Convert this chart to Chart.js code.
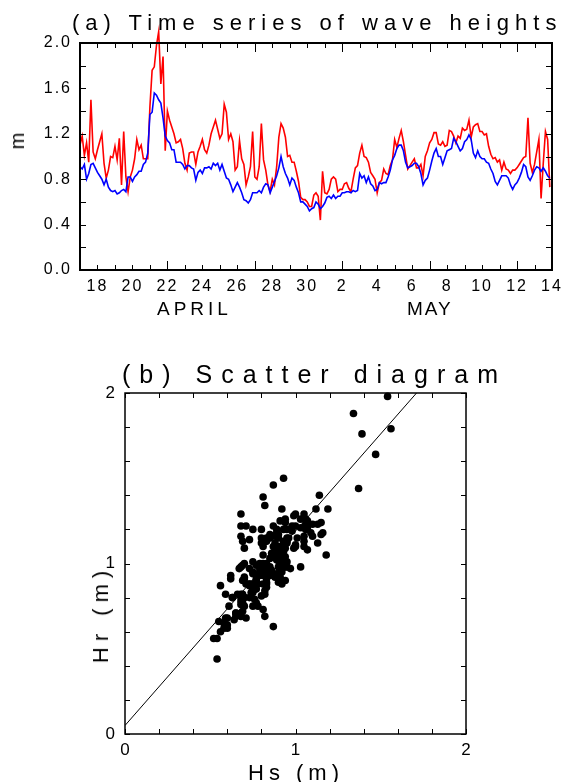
<!DOCTYPE html>
<html lang="en">
<head>
<meta charset="utf-8">
<title>Wave heights</title>
<script src="https://cdn.jsdelivr.net/npm/chart.js@4.4.1/dist/chart.umd.min.js"></script>
<style>
  html, body { margin: 0; padding: 0; background: #fff; }
  body { position: relative; width: 561px; height: 782px; overflow: hidden;
         font-family: "Liberation Sans", Arial, sans-serif; color: #000; }
  .panel { position: absolute; left: 0; width: 561px; }
  .txt { position: absolute; white-space: nowrap; line-height: 1; }
  .vert { transform: translate(-50%, -50%) rotate(-90deg); }
</style>
</head>
<body>
<div class="panel" style="top:0;height:330px"><canvas id="seriesChart"></canvas></div>
<div class="panel" style="top:335px;height:447px"><canvas id="scatterChart"></canvas></div>

<div class="txt" style="left:72px;top:12px;font-size:22px;letter-spacing:6px">(a) Time series of wave heights</div>
<div class="txt vert" style="left:17px;top:141px;font-size:20px">m</div>
<div class="txt" style="left:157px;top:299px;font-size:19px;letter-spacing:4px">APRIL</div>
<div class="txt" style="left:407px;top:299px;font-size:19px;letter-spacing:2px">MAY</div>
<div class="txt" style="left:122px;top:362px;font-size:25px;letter-spacing:9px">(b) Scatter diagram</div>
<div class="txt" style="left:248px;top:762px;font-size:22px;letter-spacing:5px">Hs (m)</div>
<div class="txt vert" style="left:101px;top:614px;font-size:22px;letter-spacing:6px">Hr (m)</div>

<script>
// 3-hourly samples starting 17 April 00:00, one row per day
const stepHours = 3;
const hsBlue = [
  0.91,0.89,0.93,0.80,0.85,0.93,0.94,0.90,
  0.86,0.83,0.80,0.75,0.80,0.73,0.70,0.69,
  0.70,0.67,0.68,0.70,0.71,0.69,0.82,0.82,
  0.78,0.82,0.84,0.87,0.87,0.93,0.95,1.03,
  1.37,1.39,1.56,1.54,1.50,1.47,1.34,1.18,
  1.14,1.12,1.06,1.06,0.95,0.95,0.95,0.93,
  0.89,0.92,0.92,0.90,0.89,0.79,0.86,0.88,
  0.85,0.90,0.90,0.91,0.89,0.94,0.92,0.94,
  0.88,0.93,0.87,0.81,0.80,0.75,0.69,0.73,
  0.77,0.73,0.68,0.62,0.61,0.59,0.62,0.68,
  0.68,0.68,0.70,0.68,0.73,0.76,0.75,0.68,
  0.73,0.78,0.83,0.90,1.00,0.91,0.85,0.81,
  0.75,0.81,0.79,0.73,0.68,0.60,0.60,0.58,
  0.56,0.52,0.54,0.55,0.60,0.58,0.54,0.56,
  0.59,0.64,0.65,0.63,0.66,0.63,0.65,0.65,
  0.68,0.68,0.69,0.69,0.68,0.70,0.69,0.70,
  0.85,0.81,0.83,0.77,0.82,0.76,0.74,0.70,
  0.71,0.77,0.76,0.77,0.77,0.82,0.88,0.97,
  1.01,1.07,1.10,1.10,1.05,0.95,0.90,0.91,
  0.92,0.94,0.94,0.91,0.85,0.75,0.79,0.81,
  0.88,0.96,1.03,1.07,1.00,1.00,0.93,0.99,
  1.05,1.06,1.07,1.16,1.13,1.09,1.05,1.07,
  1.13,1.15,1.19,1.15,1.03,0.99,1.05,1.00,
  0.98,0.98,0.95,0.94,0.89,0.85,0.78,0.75,
  0.79,0.83,0.83,0.83,0.81,0.75,0.71,0.75,
  0.77,0.81,0.86,0.93,0.91,0.82,0.79,0.83,
  0.88,0.91,0.90,0.87,0.90,0.87,0.83,0.81
];
const hrRed = [
  1.10,1.18,1.01,1.12,0.95,1.50,1.04,0.98,
  1.06,1.13,1.20,0.94,0.81,0.88,1.00,0.99,
  1.09,0.97,1.16,0.75,1.22,0.82,0.69,0.82,
  0.88,0.98,1.15,1.06,1.10,0.98,0.98,0.98,
  1.44,1.76,1.79,1.98,2.10,1.64,1.88,1.05,
  1.40,1.32,1.26,1.20,1.12,1.13,1.15,1.07,
  0.94,0.88,1.03,1.04,1.04,0.93,1.04,1.09,
  1.15,1.06,1.03,1.10,1.20,1.26,1.32,1.24,
  1.16,1.20,1.46,1.39,1.15,1.20,1.13,0.88,
  0.91,1.14,0.98,0.93,0.75,0.82,0.91,1.22,
  0.82,0.80,0.91,1.29,0.97,0.88,0.75,0.69,
  0.80,0.75,0.91,1.17,1.29,1.25,1.17,1.00,
  1.01,0.95,0.95,0.87,0.78,0.64,0.62,0.62,
  0.60,0.56,0.56,0.66,0.68,0.65,0.44,0.87,
  0.68,0.67,0.71,0.80,0.82,0.80,0.69,0.71,
  0.71,0.76,0.77,0.72,0.69,0.80,0.90,0.92,
  1.03,1.10,1.00,0.99,0.95,0.86,0.83,0.80,
  0.68,0.77,0.79,0.89,0.85,0.84,0.92,0.97,
  1.15,1.08,1.16,1.23,1.13,1.01,0.89,0.92,
  0.95,0.98,0.90,0.90,0.93,0.83,1.00,1.05,
  1.12,1.15,1.21,1.21,1.11,1.10,1.13,1.09,
  1.10,1.23,1.22,1.18,1.12,1.18,1.16,1.25,
  1.23,1.24,1.32,1.17,1.26,1.28,1.29,1.22,
  1.22,1.19,1.20,1.09,1.02,0.98,0.99,0.95,
  0.97,0.88,0.95,0.89,0.88,0.85,0.88,0.88,
  0.90,0.93,0.96,0.99,1.00,1.34,0.94,0.86,
  0.93,1.04,1.15,0.63,0.94,1.22,1.15,0.73
];
// day-of-month labels on every second day, 18 April .. 14 May
const dayTickLabels = ['18','20','22','24','26','28','30','2','4','6','8','10','12','14'];
const heightTickLabels = ['0.0','0.4','0.8','1.2','1.6','2.0'];
const scatterTickLabels = ['0','1','2'];
// regression line end points (Hs, Hr)
const fitHs = [0, 1.71];
const fitHr = [0.05, 2.0];

// canvas text spacing, the original plot uses widely spaced glyphs
const spacedText = {
  id: 'spacedText',
  beforeDraw(chart, args, opts) { chart.ctx.letterSpacing = opts.spacing || '0px'; }
};

// inward tick marks on all four sides plus the frame
const frameTicks = {
  id: 'frameTicks',
  afterDraw(chart, args, o) {
    const { ctx, chartArea: a, scales: { x, y } } = chart;
    ctx.save();
    ctx.strokeStyle = '#000';
    ctx.lineWidth = 1;
    ctx.beginPath();
    const nx = Math.round((o.xMax - o.xMin) / o.xStep);
    for (let i = 0; i <= nx; i++) {
      const v = o.xMin + i * o.xStep;
      const px = Math.round(x.getPixelForValue(v)) + 0.5;
      const len = o.xLen(v);
      ctx.moveTo(px, a.bottom); ctx.lineTo(px, a.bottom - len);
      ctx.moveTo(px, a.top); ctx.lineTo(px, a.top + len);
    }
    const ny = Math.round((o.yMax - o.yMin) / o.yStep);
    for (let i = 0; i <= ny; i++) {
      const v = o.yMin + i * o.yStep;
      const py = Math.round(y.getPixelForValue(v)) + 0.5;
      ctx.moveTo(a.left, py); ctx.lineTo(a.left + o.yLen, py);
      ctx.moveTo(a.right, py); ctx.lineTo(a.right - o.yLen, py);
    }
    ctx.stroke();
    ctx.lineWidth = o.frameWidth;
    ctx.strokeRect(a.left, a.top, a.right - a.left, a.bottom - a.top);
    ctx.restore();
  }
};

const tickFont = { family: '"Liberation Sans", Arial, sans-serif', size: 16 };

new Chart(document.getElementById('seriesChart'), {
  type: 'line',
  data: {
    datasets: [
      {
        label: 'Hs',
        data: hsBlue.map((v, i) => ({ x: i * stepHours / 24, y: v })),
        borderColor: '#0000ff',
        borderWidth: 1.6,
        pointRadius: 0,
        tension: 0,
        clip: false,
        order: 1
      },
      {
        label: 'Hr',
        data: hrRed.map((v, i) => ({ x: i * stepHours / 24, y: v })),
        borderColor: '#ff0000',
        borderWidth: 1.6,
        pointRadius: 0,
        tension: 0,
        clip: false,
        order: 2
      }
    ]
  },
  options: {
    responsive: true,
    maintainAspectRatio: false,
    animation: false,
    layout: { padding: { top: 43, right: 9, left: 0, bottom: 0 } },
    plugins: {
      legend: { display: false },
      tooltip: { enabled: false },
      spacedText: { spacing: '2px' },
      frameTicks: {
        xMin: 0, xMax: 27, xStep: 1, xLen: v => (v % 5 === 0 && v > 0 && v < 27) ? 9 : 5,
        yMin: 0, yMax: 2, yStep: 0.2, yLen: 6, frameWidth: 2
      }
    },
    scales: {
      x: {
        type: 'linear', min: 0, max: 27,
        grid: { display: false, drawTicks: false },
        border: { display: false },
        ticks: {
          stepSize: 1, autoSkip: false, maxRotation: 0, padding: 7,
          color: '#000', font: tickFont,
          callback: v => (v % 2 === 1) ? dayTickLabels[(v - 1) / 2] : ''
        },
        afterFit: s => { s.height = 60; s.paddingLeft = 0; s.paddingRight = 0; }
      },
      y: {
        min: 0, max: 2,
        grid: { display: false, drawTicks: false },
        border: { display: false },
        ticks: {
          stepSize: 0.4, padding: 8, color: '#000', font: tickFont,
          callback: v => heightTickLabels[Math.round(v / 0.4)]
        },
        afterFit: s => { s.width = 80; s.paddingTop = 0; s.paddingBottom = 0; }
      }
    }
  },
  plugins: [spacedText, frameTicks]
});

new Chart(document.getElementById('scatterChart'), {
  type: 'scatter',
  data: {
    datasets: [
      {
        label: 'Hs vs Hr',
        data: hsBlue.map((v, i) => ({ x: v, y: hrRed[i] })),
        backgroundColor: '#000',
        borderWidth: 0,
        pointRadius: 3.8,
        clip: false,
        order: 1
      },
      {
        label: 'fit',
        data: fitHs.map((v, i) => ({ x: v, y: fitHr[i] })),
        showLine: true,
        borderColor: '#000',
        borderWidth: 1,
        pointRadius: 0,
        order: 2
      }
    ]
  },
  options: {
    responsive: true,
    maintainAspectRatio: false,
    animation: false,
    layout: { padding: { top: 58, right: 95, left: 0, bottom: 0 } },
    plugins: {
      legend: { display: false },
      tooltip: { enabled: false },
      spacedText: { spacing: '0px' },
      frameTicks: {
        xMin: 0, xMax: 2, xStep: 0.2, xLen: () => 5,
        yMin: 0, yMax: 2, yStep: 0.2, yLen: 5, frameWidth: 1.5
      }
    },
    scales: {
      x: {
        type: 'linear', min: 0, max: 2,
        grid: { display: false, drawTicks: false },
        border: { display: false },
        ticks: {
          stepSize: 1, maxRotation: 0, padding: 6, color: '#000',
          font: { family: tickFont.family, size: 17 },
          callback: v => scatterTickLabels[v]
        },
        afterFit: s => { s.height = 48; s.paddingLeft = 0; s.paddingRight = 0; }
      },
      y: {
        type: 'linear', min: 0, max: 2,
        grid: { display: false, drawTicks: false },
        border: { display: false },
        ticks: {
          stepSize: 1, padding: 10, color: '#000',
          font: { family: tickFont.family, size: 17 },
          callback: v => scatterTickLabels[v]
        },
        afterFit: s => { s.width = 125; s.paddingTop = 0; s.paddingBottom = 0; }
      }
    }
  },
  plugins: [spacedText, frameTicks]
});
</script>
</body>
</html>
